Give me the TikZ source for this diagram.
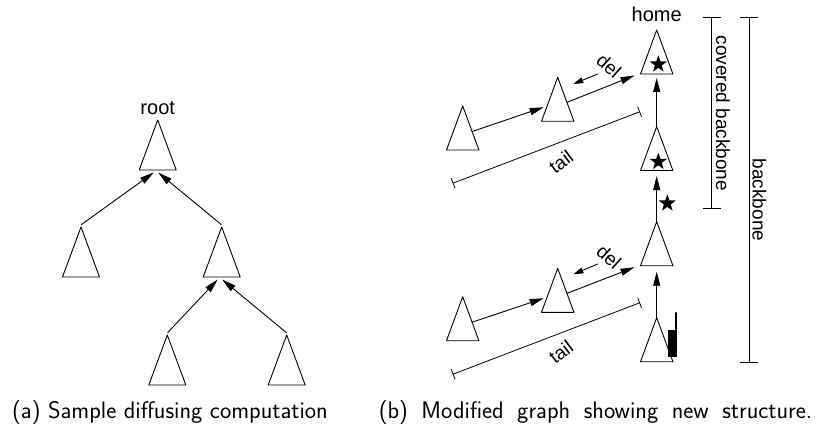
\documentclass[tikz,border=0pt]{standalone}
\usepackage{fontspec}
\newfontfamily\labelfont{Liberation Sans}
\usetikzlibrary{arrows.meta,shapes.geometric,calc}

\begin{document}
\begin{tikzpicture}[x=1pt,y=-1pt,>={Triangle[length=14pt,width=7pt]},line cap=round,line join=round]
  \tikzset{tri/.style={line width=0.9pt},
    arr/.style={->,line width=0.9pt},
    smallarr/.style={-{Triangle[length=10pt,width=6pt]},line width=0.9pt},
    lab/.style={font=\labelfont\fontsize{19}{22}\selectfont,inner sep=0pt},
    starmark/.style={star,star points=5,star point ratio=2.5,fill=black,inner sep=0pt,minimum size=18pt},
    spanline/.style={line width=0.8pt,{Bar[width=11pt]}-{Bar[width=11pt]}},
    bracket/.style={line width=0.8pt,{Bar[width=18pt]}-{Bar[width=18pt]}},
    caption/.style={font=\sffamily\fontsize{24}{28}\selectfont,inner sep=0pt}}

  \path[use as bounding box] (0,0) rectangle (827,433);

  % (a) diffusing computation tree
  \foreach \n/\x/\y in {root/157.7/120,c1/81/227,c2/221.7/227,c3/167.3/335,c4/286.7/335} {
    \draw[tri] (\x,\y) coordinate (\n) -- ++(-18.5,50) coordinate (\n-l)
      -- ++(18.5,0) coordinate (\n-b) -- ++(18.5,0) coordinate (\n-r) -- cycle;
  }
  \node[lab,font=\labelfont\fontsize{20}{23}\selectfont,anchor=base] (rootlab) at (157.7,115) {root};

  \draw[arr] ($(c1)+(0.5,-2.5)$) -- ($(root-b)+(-4,2.5)$);
  \draw[arr] ($(c2)+(-0.5,-2.5)$) -- ($(root-b)+(0.5,2.5)$);
  \draw[arr] ($(c3)+(0.5,-2.5)$) -- ($(c2-b)+(-4,2.5)$);
  \draw[arr] ($(c4)+(-0.5,-2.5)$) -- ($(c2-b)+(0.5,2.5)$);

  % (b) backbone and tails
  \foreach \n/\x/\y in {home/656.7/30,s2/656.7/126.5,b1/656.7/221.7,b0/656.7/317.7,
                        L1/462.7/106,M1/557.7/77.3,L2/462.7/296.7,M2/557.7/268.3} {
    \draw[tri] (\x,\y) coordinate (\n) -- ++(-16.2,44) coordinate (\n-l)
      -- ++(16.2,0) coordinate (\n-b) -- ++(16.2,0) coordinate (\n-r) -- cycle;
  }
  \node[lab,font=\labelfont\fontsize{20}{23}\selectfont,anchor=base] (homelab) at (656.7,21.7) {home};

  \node[starmark] (st1) at (658.3,64.3) {};
  \node[starmark] (st2) at (658.3,161.7) {};
  \node[starmark] (st3) at (667.3,203.3) {};

  \draw[arr] (s2) -- ($(home-b)+(0,4)$);
  \draw[arr] (b1) -- ($(s2-b)+(0,5.5)$);
  \draw[arr] (b0) -- ($(b1-b)+(0,6)$);

  \draw[arr] ($(L1)!0.58!(L1-r)$) -- ($(M1)!0.68!(M1-l)+(-3,0)$);
  \draw[arr] ($(M1)!0.57!(M1-r)$) -- ($(home-l)+(-6,1.5)$);
  \draw[arr] ($(L2)!0.58!(L2-r)$) -- ($(M2)!0.68!(M2-l)+(-3,0)$);
  \draw[arr] ($(M2)!0.57!(M2-r)$) -- ($(b1-l)+(-6,1.5)$);

  \coordinate (del1a) at (597.7,74);
  \coordinate (del1b) at (573.3,84);
  \coordinate (del2a) at (597.7,264);
  \coordinate (del2b) at (573.3,274.3);
  \draw[smallarr] (del1a) -- (del1b);
  \draw[smallarr] (del2a) -- (del2b);
  \node[lab,rotate=-42] (del1) at (609,66) {del};
  \node[lab,rotate=-42] (del2) at (609,257) {del};

  \coordinate (tail1s) at (452.7,183.3);
  \coordinate (tail1e) at (640,111.7);
  \coordinate (tail2s) at (452.7,374.3);
  \coordinate (tail2e) at (640,302.7);
  \draw[spanline] (tail1s) -- (tail1e);
  \draw[spanline] (tail2s) -- (tail2e);
  \node[lab,rotate=37] (tail1) at (561,161.5) {tail};
  \node[lab,rotate=37] (tail2) at (561,352) {tail};

  % token on the last node
  \fill (667.7,330) rectangle (676.7,357.3);
  \draw[line width=1.2pt] (676,312.7) -- (676,330);

  \coordinate (cbtop) at (711.7,16.7);
  \coordinate (cbbot) at (711.7,209);
  \coordinate (bbtop) at (749.3,16.7);
  \coordinate (bbbot) at (749.3,362.3);
  \draw[bracket] (cbtop) -- (cbbot);
  \draw[bracket] (bbtop) -- (bbbot);
  \node[lab,rotate=-90] (cblab) at (723,113.3) {covered backbone};
  \node[lab,rotate=-90] (bblab) at (759.5,200) {backbone};

  \node[caption] (capa) at (170,413) {(a) Sample diffusing computation};
  \node[caption] (capb) at (595.5,413) {\spaceskip=13.5pt\relax(b) Modified graph showing new structure.};
\end{tikzpicture}
\end{document}
